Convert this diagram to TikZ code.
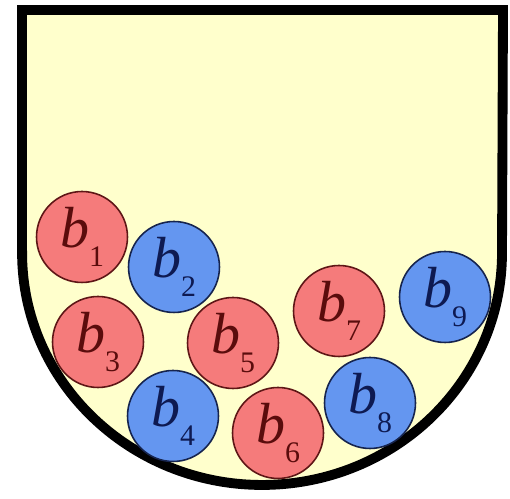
\documentclass[tikz,border=0pt]{standalone}
\usepackage{fontspec}
\setmainfont{Liberation Serif}
\usepackage{tikz}
\usepackage{xcolor}
\definecolor{urnfill}{HTML}{FFFFCC}
\definecolor{redball}{HTML}{F57B7B}
\definecolor{redline}{HTML}{5E1616}
\definecolor{redtext}{HTML}{5A0C0C}
\definecolor{blueball}{HTML}{6496F0}
\definecolor{blueline}{HTML}{16244E}
\definecolor{bluetext}{HTML}{0E1A52}
\newcommand{\ballname}[1]{\textit{b}\raisebox{-0.32em}{\fontsize{17}{17}\selectfont #1}}

\begin{document}
\begin{tikzpicture}[
    x=0.02cm, y=0.02cm,
    urn/.style={draw=black, fill=urnfill, line width=5.6pt, line join=miter},
    ball/.style={circle, minimum size=1.82cm, inner sep=0pt, line width=0.9pt,
                 font=\fontsize{33}{36}\selectfont},
    red/.style={ball, fill=redball, draw=redline, text=redtext},
    blue/.style={ball, fill=blueball, draw=blueline, text=bluetext}
  ]
    \useasboundingbox (0,0) rectangle (510,499);

    % the urn
    \draw[urn] (22,246) -- (22,489) -- (503,489) -- (502,246)
      arc[start angle=0, end angle=-180, x radius=4.8cm, y radius=4.64cm] -- cycle;

    % the balls
    \node[red]  (b1) at (82,262)  {\ballname{1}};
    \node[blue] (b2) at (174,232) {\ballname{2}};
    \node[red]  (b3) at (98,157)  {\ballname{3}};
    \node[blue] (b4) at (173,83)  {\ballname{4}};
    \node[red]  (b5) at (233,156) {\ballname{5}};
    \node[red]  (b6) at (278,66)  {\ballname{6}};
    \node[red]  (b7) at (339,188) {\ballname{7}};
    \node[blue] (b8) at (370,96)  {\ballname{8}};
    \node[blue] (b9) at (445,202) {\ballname{9}};
  \end{tikzpicture}
\end{document}
